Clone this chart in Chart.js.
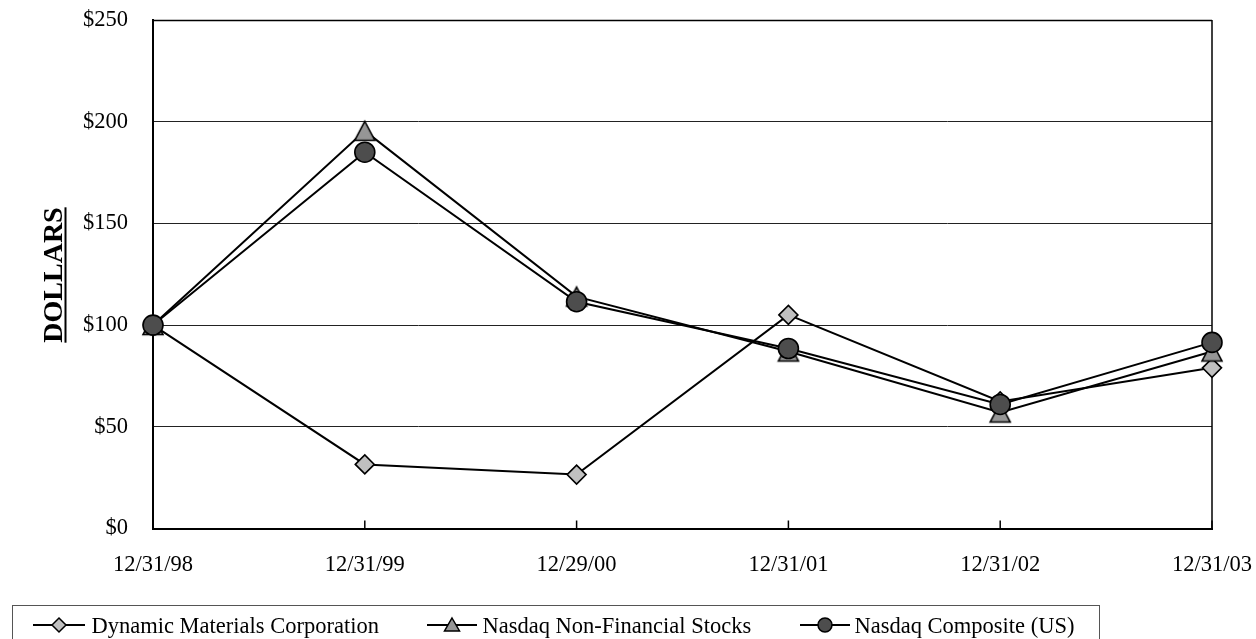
<!DOCTYPE html>
<html>
<head>
<meta charset="utf-8">
<script src="https://cdn.jsdelivr.net/npm/chart.js@4"></script>
<style>
  html, body { margin: 0; padding: 0; background: #fff; }
  #wrap { position: relative; width: 1256px; height: 639px; overflow: hidden; }
  #chart { position: absolute; left: 0; top: 0; }
  #legend { position: absolute; left: 12px; top: 605px; width: 1088px; height: 60px;
            border: 1.5px solid #555; box-sizing: border-box; }
  .txt { position: absolute; top: 9px; font-family: "Liberation Serif", "Times New Roman", serif;
         font-size: 22.5px; line-height: 22px; white-space: nowrap; color: #000; }
  svg.mk { position: absolute; top: 9px; }
</style>
</head>
<body>
<div id="wrap">
  <canvas id="chart" width="1256" height="639"></canvas>
  <div id="legend"></div>
</div>
<script>
const categories = ['12/31/98', '12/31/99', '12/29/00', '12/31/01', '12/31/02', '12/31/03'];
const dmcValues = [100, 31.5, 26.5, 105, 62.5, 79];
const nonFinValues = [100, 195.5, 114, 87, 57, 87];
const compositeValues = [100, 185, 111.5, 88.5, 61, 91.5];
const yTickValues = [0, 50, 100, 150, 200, 250];
const seriesNames = ['Dynamic Materials Corporation', 'Nasdaq Non-Financial Stocks', 'Nasdaq Composite (US)'];
const axisTitle = 'DOLLARS';

const FONT = '"Liberation Serif", "Times New Roman", serif';

// triangle marker, centred in its bounding box
function makeTriangle() {
  const c = document.createElement('canvas');
  c.width = 24; c.height = 24;
  const g = c.getContext('2d');
  g.beginPath();
  g.moveTo(12, 2.5);
  g.lineTo(22, 21.5);
  g.lineTo(2, 21.5);
  g.closePath();
  g.fillStyle = '#969696';
  g.fill();
  g.lineWidth = 1.6;
  g.strokeStyle = '#000';
  g.stroke();
  return c;
}
const triangleImg = makeTriangle();

const framePlugin = {
  id: 'frame',
  beforeDatasetsDraw(chart) {
    const { ctx, chartArea: a, scales } = chart;
    ctx.save();
    ctx.strokeStyle = '#000';
    ctx.lineWidth = 1.5;
    ctx.beginPath();
    ctx.moveTo(a.right, a.top);
    ctx.lineTo(a.right, a.bottom);
    ctx.stroke();
    ctx.beginPath();
    ctx.moveTo(a.left, a.top + 0.5);
    ctx.lineTo(a.right, a.top + 0.5);
    ctx.stroke();
    categories.forEach((c, i) => {
      const x = scales.x.getPixelForValue(i);
      ctx.beginPath();
      ctx.moveTo(x, a.bottom - 8);
      ctx.lineTo(x, a.bottom);
      ctx.stroke();
    });
    ctx.restore();
  },
  afterDraw(chart) {
    const { ctx } = chart;
    ctx.save();
    ctx.translate(61.5, 275);
    ctx.rotate(-Math.PI / 2);
    ctx.font = 'bold 28px ' + FONT;
    ctx.fillStyle = '#000';
    ctx.textAlign = 'center';
    ctx.textBaseline = 'alphabetic';
    ctx.fillText(axisTitle, 0, 0);
    const w = ctx.measureText(axisTitle).width;
    ctx.fillRect(-w / 2, 3, w, 2);
    ctx.restore();
  }
};

const chart = new Chart(document.getElementById('chart'), {
  type: 'line',
  data: {
    labels: categories,
    datasets: [
      {
        label: seriesNames[2],
        data: compositeValues,
        borderColor: '#000',
        borderWidth: 2,
        pointStyle: 'circle',
        pointRadius: 10,
        pointBackgroundColor: '#4d4d4d',
        pointBorderColor: '#000',
        pointBorderWidth: 1.6,
        tension: 0,
        clip: false
      },
      {
        label: seriesNames[1],
        data: nonFinValues,
        borderColor: '#000',
        borderWidth: 2,
        pointStyle: triangleImg,
        pointRadius: 12,
        tension: 0,
        clip: false
      },
      {
        label: seriesNames[0],
        data: dmcValues,
        borderColor: '#000',
        borderWidth: 2,
        pointStyle: 'rectRot',
        pointRadius: 9.5,
        pointBackgroundColor: '#c0c0c0',
        pointBorderColor: '#000',
        pointBorderWidth: 1.6,
        tension: 0,
        clip: false
      }
    ]
  },
  options: {
    responsive: false,
    animation: false,
    layout: { autoPadding: false, padding: { left: 0, right: 44, top: 20, bottom: 0 } },
    plugins: { legend: { display: false }, tooltip: { enabled: false } },
    scales: {
      x: {
        type: 'category',
        offset: false,
        grid: { display: false, drawTicks: false },
        border: { display: true, color: '#000', width: 2 },
        ticks: { color: '#000', font: { family: FONT, size: 22.5 }, padding: 23, maxRotation: 0, autoSkip: false },
        afterFit(scale) {
          scale.height = 110.5;
          scale.paddingLeft = 0; scale.paddingRight = 0;
          scale.paddingTop = 0; scale.paddingBottom = 0;
        }
      },
      y: {
        min: yTickValues[0],
        max: yTickValues[yTickValues.length - 1],
        afterBuildTicks(scale) { scale.ticks = yTickValues.map(v => ({ value: v })); },
        grid: { color: '#222', lineWidth: 1, drawTicks: false },
        border: { display: true, color: '#000', width: 2 },
        ticks: { color: '#000', font: { family: FONT, size: 22.5 }, padding: 25, callback: v => '$' + v },
        afterFit(scale) {
          scale.width = 153;
          scale.paddingLeft = 0; scale.paddingRight = 0;
          scale.paddingTop = 0; scale.paddingBottom = 0;
        }
      }
    }
  },
  plugins: [framePlugin]
});

const legendItems = [
  { name: seriesNames[0], line: [33, 85], text: 92, marker: 'diamond' },
  { name: seriesNames[1], line: [427, 477], text: 483, marker: 'triangle' },
  { name: seriesNames[2], line: [800, 850], text: 855, marker: 'circle' }
];
const legend = document.getElementById('legend');
const L = 12;
legendItems.forEach(it => {
  const w = it.line[1] - it.line[0];
  const svgNS = 'http://www.w3.org/2000/svg';
  const svg = document.createElementNS(svgNS, 'svg');
  svg.setAttribute('class', 'mk');
  svg.setAttribute('width', w);
  svg.setAttribute('height', 20);
  svg.style.left = (it.line[0] - L - 1.5) + 'px';
  let shape = '';
  const cx = w / 2, cy = 10;
  if (it.marker === 'diamond') {
    shape = `<polygon points="${cx-7},${cy} ${cx},${cy-7} ${cx+7},${cy} ${cx},${cy+7}" fill="#c0c0c0" stroke="#000" stroke-width="1.5"/>`;
  } else if (it.marker === 'triangle') {
    shape = `<polygon points="${cx},${cy-7} ${cx+7.5},${cy+6} ${cx-7.5},${cy+6}" fill="#969696" stroke="#000" stroke-width="1.5"/>`;
  } else {
    shape = `<circle cx="${cx}" cy="${cy}" r="7" fill="#4d4d4d" stroke="#000" stroke-width="1.5"/>`;
  }
  svg.innerHTML = `<line x1="0" y1="${cy}" x2="${w}" y2="${cy}" stroke="#000" stroke-width="2"/>` + shape;
  legend.appendChild(svg);
  const t = document.createElement('div');
  t.className = 'txt';
  t.textContent = it.name;
  t.style.left = (it.text - L - 1.5) + 'px';
  legend.appendChild(t);
});
</script>
</body>
</html>
